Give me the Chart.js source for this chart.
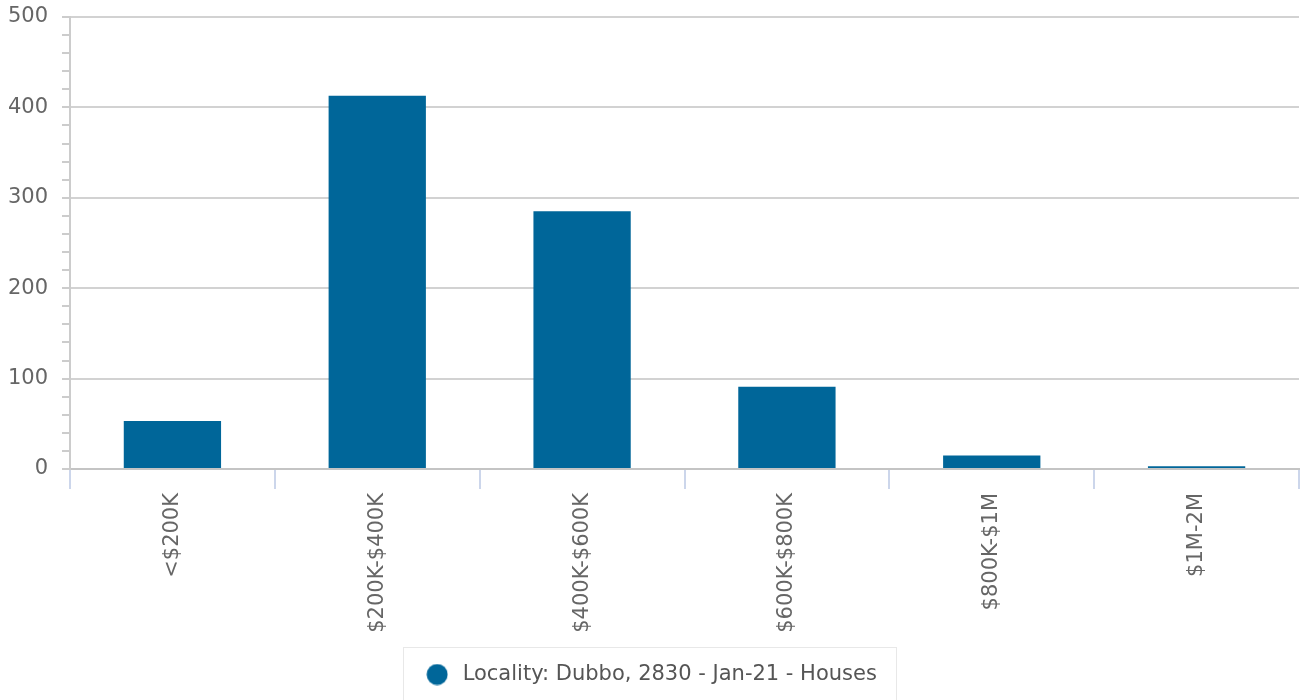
<!DOCTYPE html>
<html>
<head>
<meta charset="utf-8">
<script src="https://cdn.jsdelivr.net/npm/chart.js@4"></script>
<style>
html,body{margin:0;padding:0;background:#fff;}
#wrap{width:1300px;height:700px;position:relative;}
</style>
</head>
<body>
<div id="wrap"><canvas id="c" width="1300" height="700"></canvas></div>
<script>
const categories = ['<$200K', '$200K-$400K', '$400K-$600K', '$600K-$800K', '$800K-$1M', '$1M-2M'];
const seriesLabel = 'Locality: Dubbo, 2830 - Jan-21 - Houses';
const seriesValues = [53, 413, 285, 91, 15, 3];
const yTicks = [0, 100, 200, 300, 400, 500];
const seriesColor = '#006699';

// legend marker: a filled circle drawn on a small canvas
const marker = document.createElement('canvas');
marker.width = 22; marker.height = 22;
(function () {
  const m = marker.getContext('2d');
  m.fillStyle = seriesColor;
  m.beginPath(); m.arc(11, 11, 10.5, 0, Math.PI * 2); m.fill();
})();

const legendBox = {
  id: 'legendBox',
  afterDraw(chart) {
    const lg = chart.legend;
    if (!lg || !lg.legendHitBoxes || !lg.legendHitBoxes.length) return;
    const hb = lg.legendHitBoxes[0];
    const ctx = chart.ctx;
    ctx.save();
    ctx.strokeStyle = '#e8e8e8';
    ctx.lineWidth = 1;
    const left = hb.left - 19, right = hb.left + hb.width + 19;
    const cy = hb.top + hb.height / 2;
    ctx.strokeRect(Math.round(left) + 0.5, Math.round(cy - 28) + 0.5, Math.round(right - left), 60);
    ctx.restore();
  }
};

new Chart(document.getElementById('c'), {
  type: 'bar',
  data: {
    labels: categories,
    datasets: [{
      label: seriesLabel,
      data: seriesValues,
      backgroundColor: seriesColor,
      borderWidth: 0,
      categoryPercentage: 1,
      barPercentage: 0.475
    }]
  },
  options: {
    responsive: false,
    animation: false,
    devicePixelRatio: 1,
    layout: { padding: { left: 0, right: 1, top: 0, bottom: 5 } },
    plugins: {
      tooltip: { enabled: false },
      legend: {
        position: 'bottom',
        labels: {
          usePointStyle: true,
          pointStyle: marker,
          pointStyleWidth: 30,
          boxHeight: 14,
          padding: 14,
          color: '#555555',
          font: { family: 'DejaVu Sans', size: 21 }
        }
      }
    },
    scales: {
      x: {
        grid: {
          display: true,
          drawOnChartArea: false,
          offset: true,
          tickLength: 20,
          tickColor: '#ccd6eb',
          lineWidth: 2
        },
        border: { display: true, color: '#c4c4c4', width: 2 },
        ticks: {
          minRotation: 90,
          maxRotation: 90,
          padding: 4,
          color: '#666666',
          font: { family: 'DejaVu Sans', size: 21 }
        },
        afterFit(scale) { scale.height = 181; scale.paddingTop = 0; }
      },
      y: {
        min: 0,
        max: 500,
        ticks: {
          stepSize: 20,
          autoSkip: false,
          padding: 14,
          color: '#666666',
          font: { family: 'DejaVu Sans', size: 21 },
          callback(v) { return yTicks.includes(v) ? String(v) : ''; }
        },
        grid: {
          tickLength: 8,
          lineWidth: 2,
          color(ctx) { return (ctx.tick && yTicks.includes(ctx.tick.value)) ? '#d2d2d2' : 'rgba(0,0,0,0)'; },
          tickColor: '#cccccc'
        },
        border: { display: true, color: '#cccccc', width: 2 },
        afterFit(scale) { scale.width = 70; scale.paddingTop = 17; }
      }
    }
  },
  plugins: [legendBox]
});
</script>
</body>
</html>
